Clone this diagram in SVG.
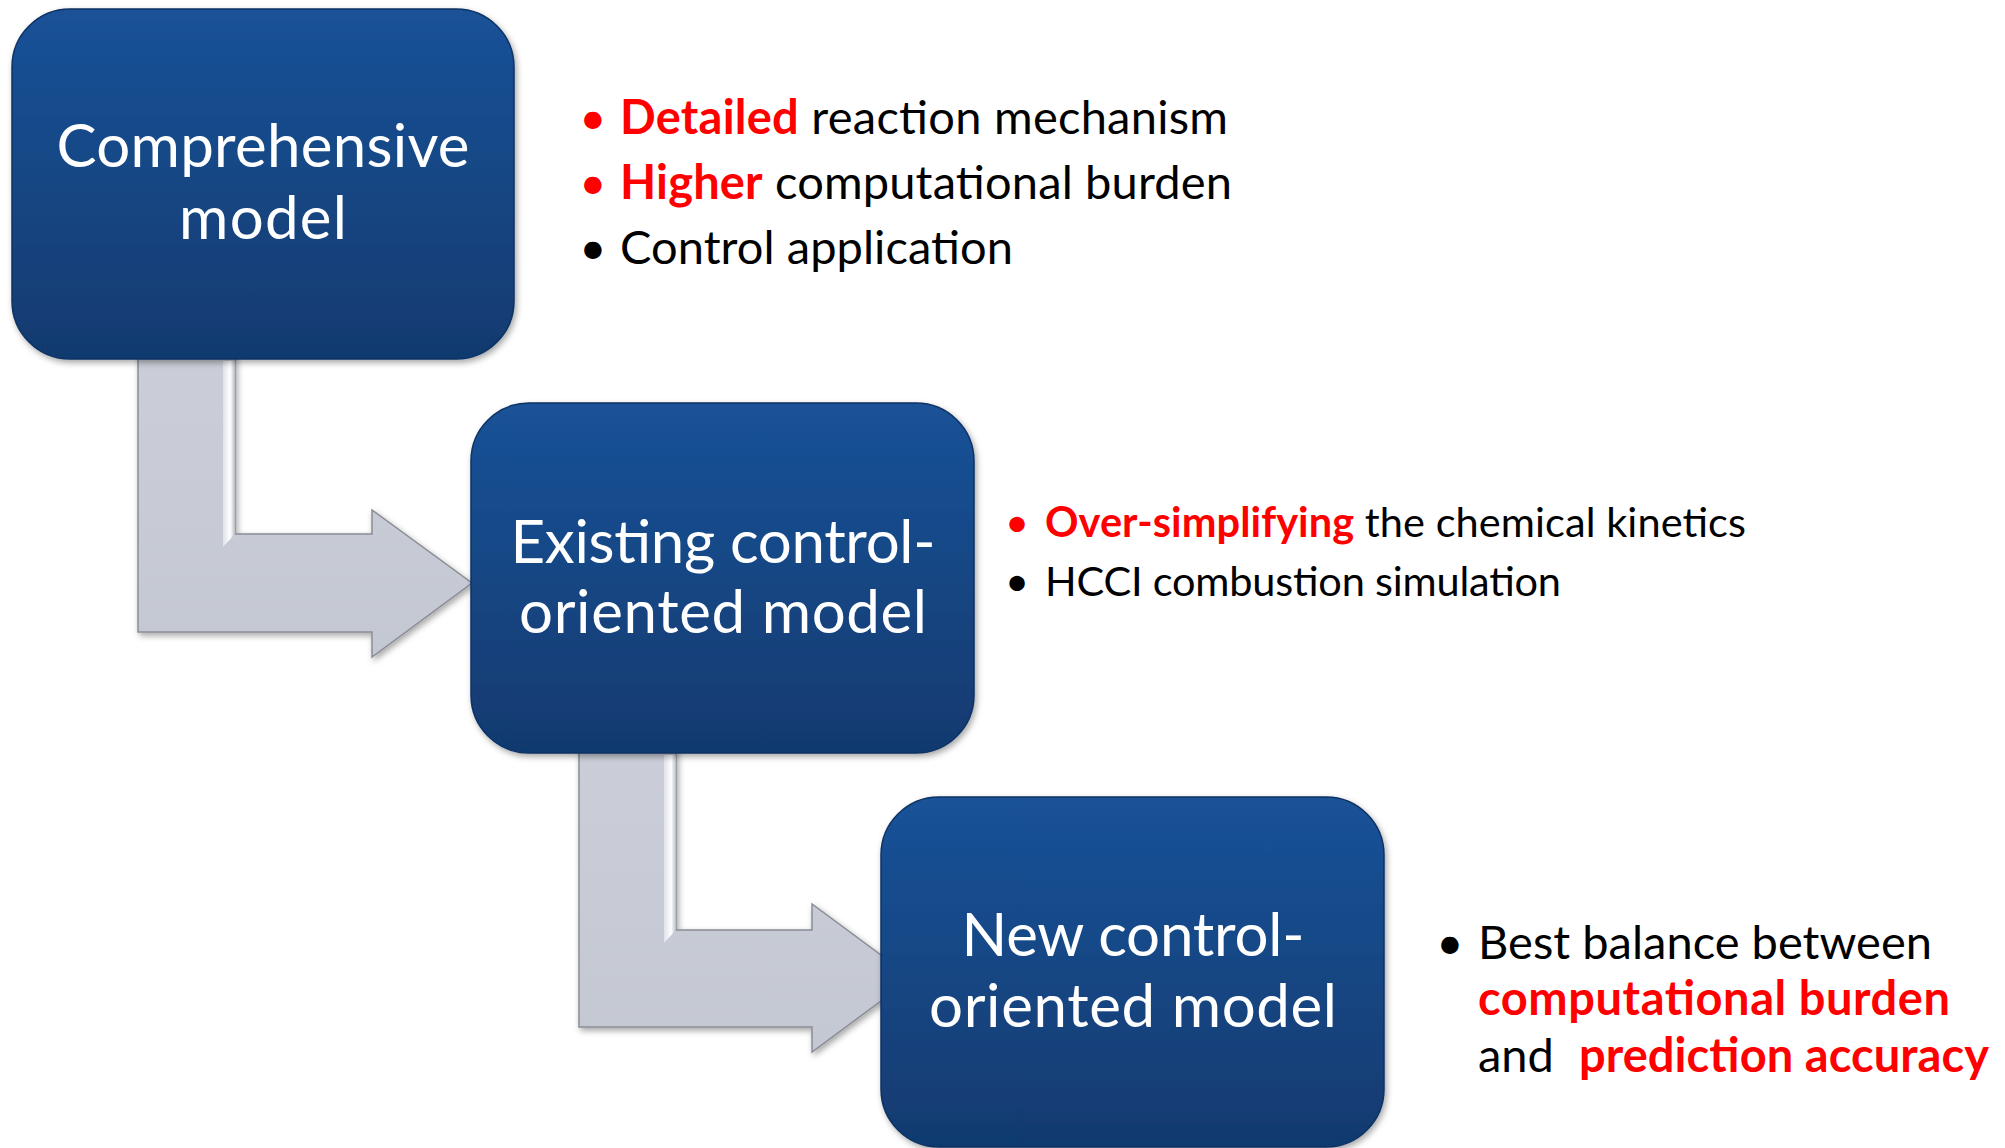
<svg xmlns="http://www.w3.org/2000/svg" width="2005" height="1148" viewBox="0 0 2005 1148">
<defs>
<linearGradient id="boxg" x1="0" y1="0" x2="0" y2="1">
<stop offset="0" stop-color="#1a5298"/>
<stop offset="1" stop-color="#113a6f"/>
</linearGradient>
<linearGradient id="arrg" x1="0" y1="0" x2="0" y2="1">
<stop offset="0" stop-color="#cbced8"/>
<stop offset="1" stop-color="#c4c8d2"/>
</linearGradient>
<linearGradient id="hl" x1="0" y1="0" x2="1" y2="0">
<stop offset="0" stop-color="#dfe2ea"/>
<stop offset="0.6" stop-color="#ffffff"/>
<stop offset="1" stop-color="#b9bcc6"/>
</linearGradient>
<filter id="sh" x="-10%" y="-10%" width="125%" height="125%">
<feDropShadow dx="2" dy="3" stdDeviation="3" flood-color="#000" flood-opacity="0.35"/>
</filter>
</defs>
<style>
.box{fill:url(#boxg);stroke:#0e3263;stroke-width:1.5;filter:url(#sh)}
.arr{fill:url(#arrg);stroke:#8a8d96;stroke-width:1.5;filter:url(#sh)}
.lbl{font-family:Lato,"Liberation Sans",sans-serif;font-size:60px;fill:#ffffff;text-anchor:middle}
.t{font-family:Lato,"Liberation Sans",sans-serif;fill:#000000}
.r{fill:#ff0000;font-weight:bold}
.b{font-family:Lato,"Liberation Sans",sans-serif;text-anchor:middle}
</style>
<rect width="2005" height="1148" fill="#ffffff"/>
<g id="connectors">
<g id="arrow1">
<polygon class="arr" points="138,350 235,350 235,534 372,534 372,510 472,583 372,657 372,632 138,632"/>
<polygon fill="url(#hl)" points="223,361 235,361 235,534 223,547"/>
</g>
<g id="arrow2">
<polygon class="arr" points="579,745 676,745 676,930 812,930 812,904 912,978 812,1052 812,1027 579,1027"/>
<polygon fill="url(#hl)" points="664,755 676,755 676,930 664,943"/>
</g>
</g>
<g id="node1">
<rect class="box" x="12" y="9" width="502" height="350" rx="58" ry="58"/>
<text class="lbl" x="263" y="167" textLength="413">Comprehensive</text>
<text class="lbl" x="263" y="239" textLength="168">model</text>
</g>
<g id="node2">
<rect class="box" x="471" y="403" width="503" height="350" rx="58" ry="58"/>
<text class="lbl" x="723" y="563" textLength="425">Existing control-</text>
<text class="lbl" x="723" y="633" textLength="408">oriented model</text>
</g>
<g id="node3">
<rect class="box" x="881" y="797" width="503" height="350" rx="58" ry="58"/>
<text class="lbl" x="1133" y="956" textLength="343">New control-</text>
<text class="lbl" x="1133" y="1027" textLength="408">oriented model</text>
</g>
<g id="notes1" font-size="47">
<text class="b" x="593" y="134" fill="#ff0000">•</text>
<text class="b" x="593" y="199" fill="#ff0000">•</text>
<text class="b" x="593" y="264" fill="#000000">•</text>
<text class="t" x="620" y="134" textLength="608"><tspan class="r">Detailed</tspan> reaction mechanism</text>
<text class="t" x="620" y="199" textLength="612"><tspan class="r">Higher</tspan> computational burden</text>
<text class="t" x="620" y="264" textLength="393">Control application</text>
</g>
<g id="notes2" font-size="41.5">
<text class="b" x="1017" y="537" fill="#ff0000">•</text>
<text class="b" x="1017" y="596" fill="#000000">•</text>
<text class="t" x="1045" y="537" textLength="701"><tspan class="r">Over-simplifying</tspan> the chemical kinetics</text>
<text class="t" x="1045" y="596" textLength="516">HCCI combustion simulation</text>
</g>
<g id="notes3" font-size="47">
<text class="b" x="1450" y="959" fill="#000000">•</text>
<text class="t" x="1478" y="959" textLength="454">Best balance between</text>
<text class="t" x="1478" y="1015" textLength="472"><tspan class="r">computational burden</tspan></text>
<text class="t" x="1478" y="1072">and</text>
<text class="t" x="1579" y="1072" textLength="410"><tspan class="r">prediction accuracy</tspan></text>
</g>
</svg>
